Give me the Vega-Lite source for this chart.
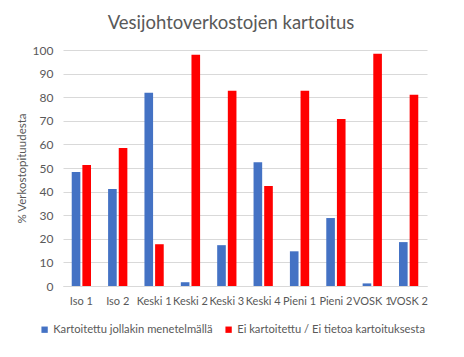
{
  "$schema": "https://vega.github.io/schema/vega-lite/v6.json",
  "width": 364,
  "height": 236,
  "autosize": {"type": "none"},
  "padding": {"left": 63, "top": 50, "right": 37, "bottom": 71},
  "background": "white",
  "title": {
    "text": "Vesijohtoverkostojen kartoitus",
    "font": "Lato",
    "fontSize": 18.5,
    "fontWeight": "normal",
    "color": "#595959",
    "anchor": "middle",
    "dx": -14,
    "offset": 12
  },
  "data": {
    "values": [
      {"kunta": "Iso 1", "sarja": "Kartoitettu jollakin menetelmällä", "arvo": 48.3},
      {"kunta": "Iso 1", "sarja": "Ei kartoitettu / Ei tietoa kartoituksesta", "arvo": 51.3},
      {"kunta": "Iso 2", "sarja": "Kartoitettu jollakin menetelmällä", "arvo": 41.1},
      {"kunta": "Iso 2", "sarja": "Ei kartoitettu / Ei tietoa kartoituksesta", "arvo": 58.5},
      {"kunta": "Keski 1", "sarja": "Kartoitettu jollakin menetelmällä", "arvo": 81.9},
      {"kunta": "Keski 1", "sarja": "Ei kartoitettu / Ei tietoa kartoituksesta", "arvo": 17.7},
      {"kunta": "Keski 2", "sarja": "Kartoitettu jollakin menetelmällä", "arvo": 1.6},
      {"kunta": "Keski 2", "sarja": "Ei kartoitettu / Ei tietoa kartoituksesta", "arvo": 98.0},
      {"kunta": "Keski 3", "sarja": "Kartoitettu jollakin menetelmällä", "arvo": 17.3},
      {"kunta": "Keski 3", "sarja": "Ei kartoitettu / Ei tietoa kartoituksesta", "arvo": 82.7},
      {"kunta": "Keski 4", "sarja": "Kartoitettu jollakin menetelmällä", "arvo": 52.4},
      {"kunta": "Keski 4", "sarja": "Ei kartoitettu / Ei tietoa kartoituksesta", "arvo": 42.4},
      {"kunta": "Pieni 1", "sarja": "Kartoitettu jollakin menetelmällä", "arvo": 14.7},
      {"kunta": "Pieni 1", "sarja": "Ei kartoitettu / Ei tietoa kartoituksesta", "arvo": 82.7},
      {"kunta": "Pieni 2", "sarja": "Kartoitettu jollakin menetelmällä", "arvo": 28.8},
      {"kunta": "Pieni 2", "sarja": "Ei kartoitettu / Ei tietoa kartoituksesta", "arvo": 70.8},
      {"kunta": "VOSK 1", "sarja": "Kartoitettu jollakin menetelmällä", "arvo": 1.1},
      {"kunta": "VOSK 1", "sarja": "Ei kartoitettu / Ei tietoa kartoituksesta", "arvo": 98.4},
      {"kunta": "VOSK 2", "sarja": "Kartoitettu jollakin menetelmällä", "arvo": 18.6},
      {"kunta": "VOSK 2", "sarja": "Ei kartoitettu / Ei tietoa kartoituksesta", "arvo": 81.0}
    ]
  },
  "mark": {"type": "bar"},
  "encoding": {
    "x": {
      "field": "kunta",
      "type": "nominal",
      "sort": null,
      "scale": {"paddingInner": 0.47, "paddingOuter": 0.24},
      "axis": {
        "title": null,
        "labelAngle": 0,
        "labelFont": "Lato",
        "labelFontSize": 11,
        "labelColor": "#595959",
        "labelPadding": 9,
        "labelOverlap": false,
        "ticks": false,
        "domainColor": "#D9D9D9",
        "grid": false
      }
    },
    "xOffset": {
      "field": "sarja",
      "type": "nominal",
      "sort": ["Kartoitettu jollakin menetelmällä", "Ei kartoitettu / Ei tietoa kartoituksesta"],
      "scale": {"paddingInner": 0.19, "paddingOuter": 0}
    },
    "y": {
      "field": "arvo",
      "type": "quantitative",
      "scale": {"domain": [0, 100], "nice": false},
      "axis": {
        "title": "% Verkostopituudesta",
        "titleFont": "Lato",
        "titleFontSize": 11.5,
        "titleFontWeight": "normal",
        "titleColor": "#595959",
        "titlePadding": 5,
        "values": [0, 10, 20, 30, 40, 50, 60, 70, 80, 90, 100],
        "labelFont": "Lato",
        "labelFontSize": 12,
        "labelColor": "#595959",
        "labelPadding": 10,
        "ticks": false,
        "domain": false,
        "gridColor": "#D9D9D9",
        "gridWidth": 1
      }
    },
    "color": {
      "field": "sarja",
      "type": "nominal",
      "sort": ["Kartoitettu jollakin menetelmällä", "Ei kartoitettu / Ei tietoa kartoituksesta"],
      "scale": {
        "domain": ["Kartoitettu jollakin menetelmällä", "Ei kartoitettu / Ei tietoa kartoituksesta"],
        "range": ["#4472C4", "#FF0000"]
      },
      "legend": {
        "title": null,
        "orient": "none",
        "direction": "horizontal",
        "legendX": -24,
        "legendY": 274,
        "symbolType": "square",
        "symbolSize": 40,
        "symbolStrokeWidth": 0,
        "labelFont": "Lato",
        "labelFontSize": 11.2,
        "labelColor": "#595959",
        "labelLimit": 300,
        "labelOffset": 3,
        "columnPadding": 10
      }
    }
  },
  "config": {
    "view": {"stroke": null},
    "axis": {"gridColor": "#D9D9D9"}
  }
}
